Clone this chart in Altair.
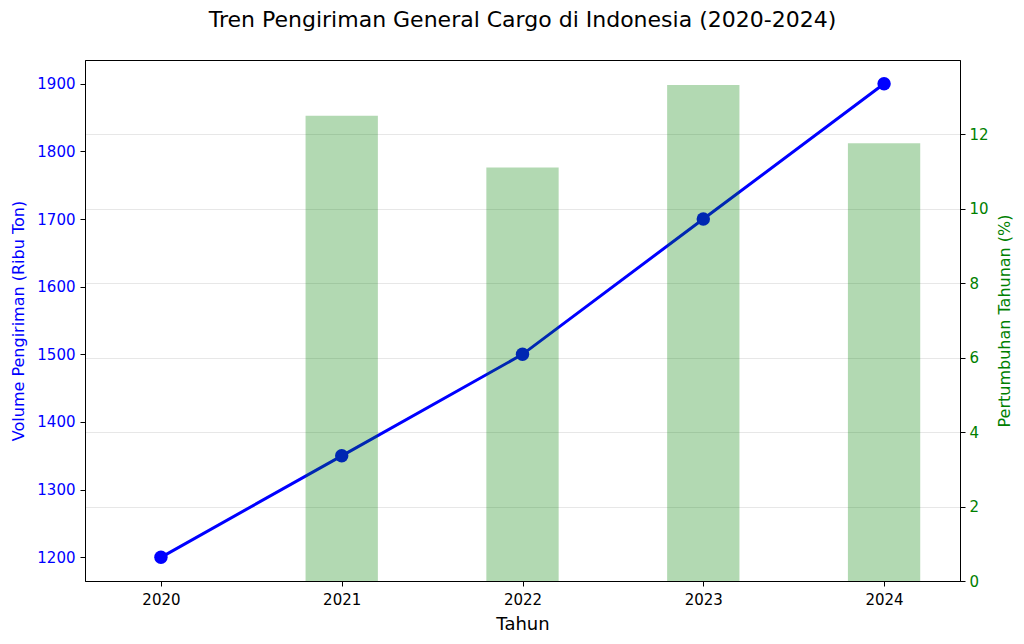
import altair as alt
import pandas as pd

years = [2020, 2021, 2022, 2023, 2024]
volume = [1200, 1350, 1500, 1700, 1900]
growth = [0.0, 12.5, 11.11, 13.33, 11.76]

df = pd.DataFrame({"Tahun": years, "Volume": volume, "Growth": growth})

FONT = "DejaVu Sans"
xscale = alt.Scale(domain=[2019.58, 2024.42], nice=False, zero=False)
xaxis = alt.Axis(values=years, format="d", grid=False, title="Tahun",
                 labelFontSize=15, titleFontSize=18, labelColor="black",
                 titleColor="black", titleFontWeight="normal", tickColor="black",
                 domainColor="black", tickSize=5, labelPadding=6, titlePadding=8)

base = alt.Chart(df)
lscale = alt.Scale(domain=[1165, 1935], nice=False, zero=False)

yleft = alt.Y("Volume:Q", scale=lscale,
              axis=alt.Axis(values=list(range(1200, 2000, 100)), format="d",
                            grid=False,
                            title="Volume Pengiriman (Ribu Ton)",
                            labelColor="blue", titleColor="blue",
                            labelFontSize=15, titleFontSize=16,
                            titleFontWeight="normal", tickColor="black",
                            domainColor="black", tickSize=5, labelPadding=5,
                            titlePadding=10))

line = base.mark_line(color="blue", strokeWidth=3).encode(
    x=alt.X("Tahun:Q", scale=xscale, axis=xaxis), y=yleft)
pts = base.mark_circle(color="blue", size=180, opacity=1).encode(
    x=alt.X("Tahun:Q", scale=xscale), y=alt.Y("Volume:Q", scale=lscale))

bars = base.transform_calculate(
    x0="datum.Tahun - 0.2", x1="datum.Tahun + 0.2"
).mark_rect(color="green", opacity=0.3).encode(
    x=alt.X("x0:Q", scale=xscale),
    x2="x1:Q",
    y=alt.Y("Growth:Q",
            scale=alt.Scale(domain=[0, 14.0], nice=False),
            axis=alt.Axis(values=[0, 2, 4, 6, 8, 10, 12], orient="right",
                          title="Pertumbuhan Tahunan (%)", titleAngle=270,
                          labelColor="green", titleColor="green",
                          labelFontSize=15, titleFontSize=16,
                          titleFontWeight="normal", tickColor="black",
                          domainColor="black", tickSize=5, labelPadding=4,
                          titlePadding=24, grid=True, gridColor="#b0b0b0",
                          gridOpacity=0.3, gridWidth=1)),
    y2=alt.datum(0),
)

left = alt.layer(line, pts)
chart = alt.layer(left, bars).resolve_scale(y="independent").properties(
    width=875, height=521,
    title=alt.TitleParams("Tren Pengiriman General Cargo di Indonesia (2020-2024)",
                          fontSize=22, font=FONT, fontWeight="normal",
                          color="black", offset=28),
    autosize=alt.AutoSizeParams(type="none"),
    padding={"left": 77, "top": 52, "right": 56, "bottom": 55},
).configure(font=FONT).configure_view(stroke="black", strokeWidth=1)

chart.save("out.html", embed_options={"renderer": "svg", "actions": False})
